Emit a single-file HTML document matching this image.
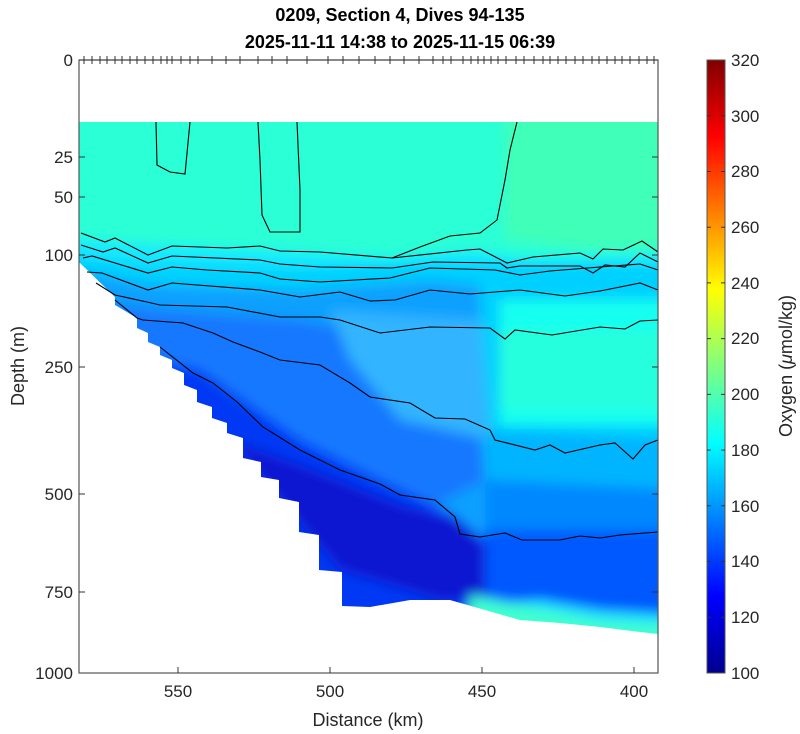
<!DOCTYPE html>
<html><head><meta charset="utf-8"><style>
body{margin:0;background:#fff;}
svg{display:block;font-family:"Liberation Sans",sans-serif;}
</style></head><body>
<svg width="800" height="734" viewBox="0 0 800 734" xmlns="http://www.w3.org/2000/svg">
<defs>
<clipPath id="dc"><path d="M79,122 L658,122 L658,634 L640,632 L600,627 L560,623 L520,620 L450,600 L410,600 L370,607 L342,606 L342,572 L319,570 L319,535 L299,532 L299,502 L279,498 L279,480 L261,477 L261,462 L243,458 L243,438 L227,433 L227,423 L212,418 L212,407 L197,402 L197,390 L184,385 L184,373 L172,368 L172,360 L160,355 L160,347 L148,342 L148,333 L137,328 L137,318 L115,305 L115,297 L80,263 L79,263 Z"/></clipPath>
<filter id="bl" x="-5%" y="-5%" width="110%" height="110%"><feGaussianBlur stdDeviation="6"/></filter>
<linearGradient id="jet" x1="0" y1="1" x2="0" y2="0">
<stop offset="0" stop-color="#00008f"/><stop offset="0.125" stop-color="#0000ff"/><stop offset="0.375" stop-color="#00ffff"/><stop offset="0.625" stop-color="#ffff00"/><stop offset="0.875" stop-color="#ff0000"/><stop offset="1" stop-color="#800000"/>
</linearGradient>
</defs>
<text x="400" y="21" text-anchor="middle" font-size="18" font-weight="bold">0209, Section 4, Dives 94-135</text>
<text x="400" y="48" text-anchor="middle" font-size="18" font-weight="bold">2025-11-11 14:38 to 2025-11-15 06:39</text>
<g clip-path="url(#dc)">
<g filter="url(#bl)">
<rect x="60" y="100" width="620" height="560" fill="#2affd6"/>
<path d="M505,110 L680,110 L680,245 L600,250 L505,240 Z" fill="#40ffb8"/>
<path d="M60,238 L150,245 L300,252 L390,258 L470,250 L520,258 L680,255 L680,700 L60,700 Z" fill="#12e8ff"/>
<path d="M60,255 L150,265 L300,268 L430,262 L500,264 L680,265 L680,700 L60,700 Z" fill="#00d0ff"/>
<path d="M60,268 L150,285 L300,290 L430,280 L480,285 L490,700 L60,700 Z" fill="#10a0ff"/>
<path d="M500,300 L680,300 L680,425 L500,425 Z" fill="#14fff0"/>
<path d="M500,330 L680,330 L680,410 L500,410 Z" fill="#30ffd0" opacity="0.6"/>
<path d="M60,300 L160,310 L300,320 L380,335 L470,330 L485,480 L60,700 Z" fill="#1478ff"/>
<path d="M330,310 L480,320 L490,440 L400,420 L350,360 Z" fill="#30b4ff"/>
<path d="M485,430 L680,440 L680,700 L485,700 Z" fill="#00b4ff"/>
<path d="M485,480 L680,490 L680,700 L485,700 Z" fill="#0088ff"/>
<path d="M485,530 L680,530 L680,700 L485,700 Z" fill="#0058ff"/>
<path d="M60,340 L200,370 L300,440 L380,480 L455,515 L485,540 L485,700 L60,700 Z" fill="#0438f4"/>
<path d="M230,440 L300,465 L400,505 L455,520 L485,545 L485,600 L440,600 L340,570 Z" fill="#0818d0"/>
<path d="M490,605 L540,600 L600,610 L680,615 L680,700 L470,700 Z" fill="#20e0ff"/>
<path d="M470,595 L520,605 L600,620 L680,625 L680,700 L460,700 Z" fill="#40ffd0"/>
</g>
</g>
<g fill="none" stroke="#000" stroke-width="1.1">
<path d="M156,122 L157,165 L170,172 L185,174 L190,122"/>
<path d="M258,122 L260,160 L262,215 L270,232 L300,232 L300,190 L297,122"/>
<path d="M81,233 L105,242 L115,238 L148,255 L172,246 L227,248 L260,246 L280,251 L320,252 L392,258 L420,247 L450,236 L480,233 L497,220 L505,180 L510,150 L517,122"/>
<path d="M392,258 L467,250 L480,249 L507,263 L533,257 L580,253 L593,259 L603,249 L623,250 L642,241 L658,252"/>
<path d="M81,245 L103,252 L115,248 L148,263 L172,256 L260,260 L280,264 L320,267 L392,268 L433,262 L500,263 L507,268 L520,266 L580,266 L593,273 L605,265 L625,267 L640,253 L658,262"/>
<path d="M83,258 L92,256 L148,273 L172,267 L207,270 L260,273 L280,279 L320,282 L390,278 L430,268 L495,270 L520,275 L550,271 L600,267 L640,264 L658,270"/>
<path d="M87,272 L102,273 L148,290 L172,283 L260,290 L300,297 L340,292 L370,301 L395,300 L430,290 L470,294 L520,290 L565,296 L600,291 L640,283 L658,290"/>
<path d="M96,283 L115,295 L147,302 L160,305 L227,307 L280,317 L320,317 L340,320 L380,333 L430,327 L490,328 L505,339 L515,330 L552,335 L600,327 L625,329 L640,321 L658,320"/>
<path d="M115,300 L137,318 L143,320 L183,323 L213,333 L233,342 L260,352 L280,360 L320,365 L350,383 L370,397 L410,403 L435,418 L465,419 L490,430 L495,440 L535,450 L550,445 L565,453 L600,445 L615,443 L633,459 L645,445 L658,440"/>
<path d="M160,347 L193,373 L213,383 L237,402 L263,427 L300,450 L340,470 L380,484 L400,495 L435,500 L455,517 L460,534 L480,537 L505,533 L522,540 L560,540 L580,536 L600,538 L620,535 L658,532"/>
</g>
<rect x="79" y="60" width="579" height="613" fill="none" stroke="#555" stroke-width="1.2"/>
<g stroke="#333" stroke-width="1">
<path d="M79,60 h579"/>
<path d="M84,56v8M92,56v8M100,56v8M107,56v8M115,56v8M122,56v8M130,56v8M137,56v8M145,56v8M153,56v8M161,56v8M167,56v8M172,56v8M181,56v8M190,56v8M198,56v8M212,56v8M226,56v8M240,56v8M258,56v8M272,56v8M287,56v8M307,56v8M328,56v8M343,56v8M359,56v8M375,56v8M390,56v8M404,56v8M419,56v8M433,56v8M443,56v8M451,56v8M463,56v8M471,56v8M478,56v8M484,56v8M491,56v8M498,56v8M506,56v8M516,56v8M524,56v8M534,56v8M543,56v8M550,56v8M558,56v8M566,56v8M575,56v8M583,56v8M592,56v8M599,56v8M607,56v8M615,56v8M622,56v8M630,56v8M639,56v8M647,56v8M654,56v8"/>
<path d="M79,157h6M79,197h6M79,255h6M79,367h6M79,494h6M79,592h6M652,157h6M652,197h6M652,255h6M652,367h6M652,494h6M652,592h6"/>
<path d="M178,673v-6M330,673v-6M482,673v-6M634,673v-6"/>
</g>
<g font-size="17" fill="#262626">
<text x="73" y="66" text-anchor="end">0</text>
<text x="73" y="163" text-anchor="end">25</text>
<text x="73" y="203" text-anchor="end">50</text>
<text x="73" y="261" text-anchor="end">100</text>
<text x="73" y="373" text-anchor="end">250</text>
<text x="73" y="500" text-anchor="end">500</text>
<text x="73" y="598" text-anchor="end">750</text>
<text x="73" y="679" text-anchor="end">1000</text>
<text x="178" y="697" text-anchor="middle">550</text>
<text x="330" y="697" text-anchor="middle">500</text>
<text x="482" y="697" text-anchor="middle">450</text>
<text x="634" y="697" text-anchor="middle">400</text>
<text x="368" y="726" text-anchor="middle" font-size="18">Distance (km)</text>
<text transform="translate(24,366) rotate(-90)" text-anchor="middle" font-size="18">Depth (m)</text>
</g>
<rect x="707" y="60" width="18" height="613" fill="url(#jet)" stroke="#555" stroke-width="1"/>
<g stroke="#333" stroke-width="1">
<path d="M707,115.7h4M707,171.5h4M707,227.2h4M707,282.9h4M707,338.6h4M707,394.4h4M707,450.1h4M707,505.8h4M707,561.5h4M707,617.3h4M721,115.7h4M721,171.5h4M721,227.2h4M721,282.9h4M721,338.6h4M721,394.4h4M721,450.1h4M721,505.8h4M721,561.5h4M721,617.3h4"/>
</g>
<g font-size="17" fill="#262626">
<text x="731" y="66">320</text><text x="731" y="122">300</text><text x="731" y="177">280</text><text x="731" y="233">260</text><text x="731" y="289">240</text><text x="731" y="344">220</text><text x="731" y="400">200</text><text x="731" y="456">180</text><text x="731" y="512">160</text><text x="731" y="567">140</text><text x="731" y="623">120</text><text x="731" y="679">100</text>
<text transform="translate(792,366) rotate(-90)" text-anchor="middle" font-size="18">Oxygen (<tspan font-style="italic">μ</tspan>mol/kg)</text>
</g>
</svg>
</body></html>
